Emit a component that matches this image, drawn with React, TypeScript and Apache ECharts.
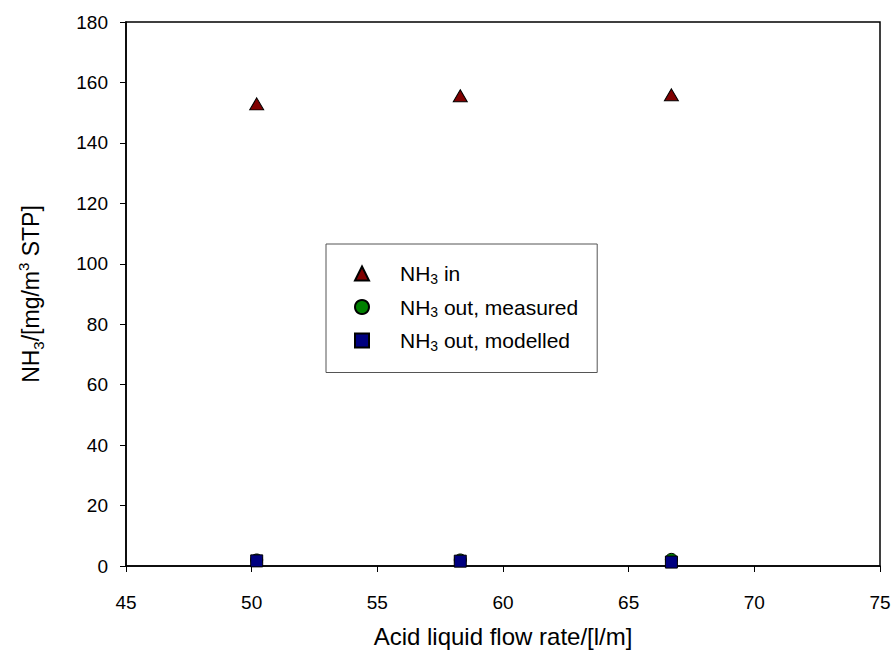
import React, { useEffect, useRef } from "react";
import * as echarts from "echarts";

const flowRates = [50.2, 58.3, 66.7];
const nh3In = [152.9, 155.6, 155.9];
const nh3OutMeasured = [2.0, 2.0, 2.2];
const nh3OutModelled = [1.7, 1.6, 1.3];

const FONT = "Liberation Sans, Arial, sans-serif";

const richText = {
  sp: { width: 26, fontSize: 21, lineHeight: 24, fontFamily: FONT },
  a: { fontSize: 21, lineHeight: 24, color: "#000", fontFamily: FONT },
  sub: { fontSize: 14, lineHeight: 14, verticalAlign: "bottom", color: "#000", fontFamily: FONT },
};

export default function App() {
  const ref = useRef<HTMLDivElement>(null);
  useEffect(() => {
    if (!ref.current) return;
    const chart = echarts.init(ref.current, undefined, { renderer: "svg" });
    const pairs = (ys: number[]) => flowRates.map((x, i) => [x, ys[i]]);
    chart.setOption({
      animation: false,
      backgroundColor: "#fff",
      textStyle: { fontFamily: FONT },
      grid: {
        left: 126,
        right: 16,
        top: 22,
        bottom: 92,
        show: true,
        borderColor: "#000",
        borderWidth: 1.5,
        backgroundColor: "transparent",
      },
      xAxis: {
        type: "value",
        min: 45,
        max: 75,
        interval: 5,
        name: "Acid liquid flow rate/[l/m]",
        nameLocation: "middle",
        nameGap: 58,
        nameTextStyle: { fontSize: 24, color: "#000", fontFamily: FONT, verticalAlign: "top" },
        axisLine: { lineStyle: { color: "#000", width: 1.5 } },
        axisTick: { inside: false, length: 6, lineStyle: { color: "#000", width: 1 } },
        axisLabel: { margin: 27, fontSize: 19, color: "#000", fontFamily: FONT },
        splitLine: { show: false },
      },
      yAxis: {
        type: "value",
        min: 0,
        max: 180,
        interval: 20,
        name: "{m|NH}{sub|3}{m|/[mg/m}{sup|3}{m| STP]}",
        nameLocation: "middle",
        nameGap: 80,
        nameRotate: 90,
        nameTextStyle: {
          fontSize: 23,
          color: "#000",
          fontFamily: FONT,
          rich: {
            m: { fontSize: 23, lineHeight: 30, color: "#000", fontFamily: FONT },
            sub: { fontSize: 15, lineHeight: 15, verticalAlign: "bottom", color: "#000", fontFamily: FONT },
            sup: { fontSize: 15, lineHeight: 15, verticalAlign: "top", color: "#000", fontFamily: FONT },
          },
        },
        axisLine: { lineStyle: { color: "#000", width: 1.5 } },
        axisTick: { inside: false, length: 6, lineStyle: { color: "#000", width: 1 } },
        axisLabel: { margin: 18, fontSize: 19, color: "#000", fontFamily: FONT },
        splitLine: { show: false },
      },
      legend: {
        orient: "vertical",
        left: 326,
        top: 244,
        padding: [19, 19, 20, 28],
        itemGap: 11,
        itemWidth: 14,
        itemHeight: 14,
        borderColor: "#555",
        borderWidth: 1,
        backgroundColor: "#fff",
        data: ["NH3 in", "NH3 out, measured", "NH3 out, modelled"],
        formatter: (name: string) => {
          if (name === "NH3 in") return "{sp| }{a|NH}{sub|3}{a| in}";
          if (name === "NH3 out, measured") return "{sp| }{a|NH}{sub|3}{a| out, measured}";
          return "{sp| }{a|NH}{sub|3}{a| out, modelled}";
        },
        textStyle: { rich: richText, fontSize: 21, fontFamily: FONT },
      },
      series: [
        {
          name: "NH3 in",
          type: "scatter",
          data: pairs(nh3In),
          symbol: "triangle",
          symbolSize: [14, 12],
          itemStyle: { color: "#800000", borderColor: "#000", borderWidth: 1, opacity: 1 },
          z: 3,
        },
        {
          name: "NH3 out, measured",
          type: "scatter",
          data: pairs(nh3OutMeasured),
          symbol: "circle",
          symbolSize: 12,
          itemStyle: { color: "#008000", borderColor: "#000", borderWidth: 1, opacity: 1 },
          z: 3,
        },
        {
          name: "NH3 out, modelled",
          type: "scatter",
          data: pairs(nh3OutModelled),
          symbol: "rect",
          symbolSize: 12,
          itemStyle: { color: "#000080", borderColor: "#000", borderWidth: 1, opacity: 1 },
          z: 4,
        },
      ],
    });
    return () => chart.dispose();
  }, []);
  return <div ref={ref} style={{ width: 896, height: 658, position: "absolute", left: 0, top: 0 }} />;
}
